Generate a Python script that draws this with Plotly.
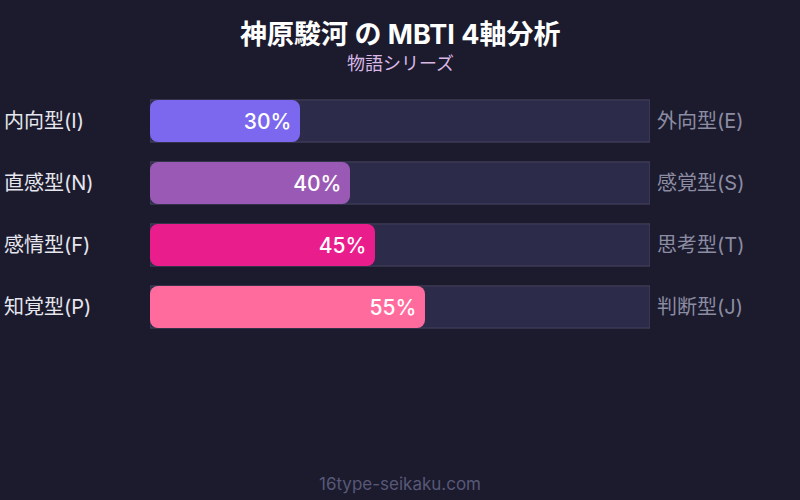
import plotly.graph_objects as go

# MBTI axis data
left_labels = ["内向型(I)", "直感型(N)", "感情型(F)", "知覚型(P)"]
right_labels = ["外向型(E)", "感覚型(S)", "思考型(T)", "判断型(J)"]
values = [30, 40, 45, 55]
bar_colors = ["#7b68ee", "#9b59b6", "#e91e8c", "#ff6b9d"]

font_family = "Inter, Noto Sans CJK JP, sans-serif"
bar_w = 0.68

fig = go.Figure()

# background track (100%)
fig.add_trace(go.Bar(
    x=[100] * len(values), y=left_labels, orientation="h",
    marker=dict(color="#2d2b4a", line=dict(color="#46445f", width=1)),
    width=bar_w, hoverinfo="skip", showlegend=False,
))

# value bars (explicit base -> plotly rounds both ends)
fig.add_trace(go.Bar(
    x=values, base=[0] * len(values), y=left_labels, orientation="h",
    marker=dict(color=bar_colors, cornerradius=8, line=dict(width=0)),
    width=bar_w,
    text=[f"{v}%\u00a0" for v in values],
    textposition="inside", insidetextanchor="end", constraintext="none",
    textfont=dict(color="white", size=21, family=font_family, weight=500),
    hovertext=[f"{l}: {v}%" for l, v in zip(left_labels, values)],
    hoverinfo="text", showlegend=False,
))

# side labels
for i in range(len(left_labels)):
    fig.add_annotation(x=0, xref="paper", xanchor="left", xshift=-148,
                       y=left_labels[i], yref="y", showarrow=False,
                       text=left_labels[i],
                       font=dict(color="#e6e6ee", size=20, family=font_family))
    fig.add_annotation(x=1, xref="paper", xanchor="left", xshift=5,
                       y=left_labels[i], yref="y", showarrow=False,
                       text=right_labels[i],
                       font=dict(color="#8c8ca3", size=20, family=font_family))

# title, subtitle, footer
fig.add_annotation(x=0.5, xref="paper", y=1.222, yref="paper", yanchor="middle",
                   showarrow=False, text="<b>神原駿河 の MBTI 4軸分析</b>",
                   font=dict(color="white", size=27, family=font_family))
fig.add_annotation(x=0.5, xref="paper", y=1.105, yref="paper", yanchor="middle",
                   showarrow=False, text="物語シリーズ",
                   font=dict(color="#d9b8e6", size=18, family=font_family))
fig.add_annotation(x=0.5, xref="paper", y=-0.589, yref="paper", yanchor="middle",
                   showarrow=False, text="16type-seikaku.com",
                   font=dict(color="#585878", size=17, family=font_family))

fig.update_layout(
    width=800, height=500,
    barmode="overlay",
    paper_bgcolor="#1b1b2d", plot_bgcolor="#1b1b2d",
    margin=dict(l=150, r=150, t=90, b=162),
    font=dict(family=font_family),
    xaxis=dict(range=[0, 100], visible=False, fixedrange=True),
    yaxis=dict(autorange="reversed", visible=False, fixedrange=True),
)

fig.write_html("out.html", config={"displayModeBar": False},
               post_script="document.body.style.margin='0';")
